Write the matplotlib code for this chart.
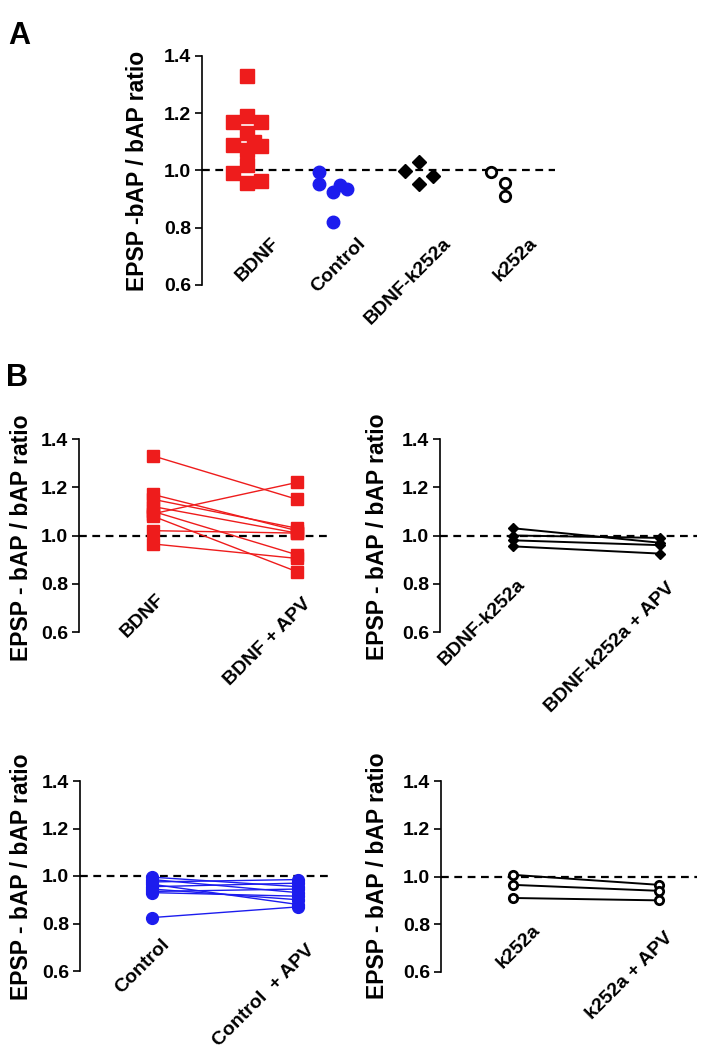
"""EPSP-bAP / bAP ratio figure: panel A scatter by group, panel B paired APV plots."""

import matplotlib
matplotlib.use("Agg")
import matplotlib.pyplot as plt
from matplotlib.transforms import ScaledTranslation

plt.rcParams["font.family"] = ["Liberation Sans", "DejaVu Sans"]
plt.rcParams["font.weight"] = "bold"

W, H = 702, 1050

# ---- panel A: one ratio per cell ----
a_groups = ["BDNF", "Control", "BDNF-k252a", "k252a"]
a_bdnf = [1.33, 1.19, 1.17, 1.17, 1.13, 1.10, 1.09, 1.085, 1.07, 1.02, 0.99, 0.965, 0.955]
a_bdnf_slot = [0, 0, -1, 1, 0, 0.5, -1, 1, 0, 0, -1, 1, 0]
a_control = [0.995, 0.952, 0.95, 0.936, 0.925, 0.821]
a_control_slot = [-1, -1, 0.5, 1, 0, 0]
a_bk = [0.997, 1.028, 0.952, 0.981]
a_bk_slot = [-1, 0, 0, 1]
a_k = [0.994, 0.958, 0.911]
a_k_slot = [-1, 0, 0]

# ---- panel B: paired before / after APV ----
b_bdnf_labels = ["BDNF", "BDNF + APV"]
b_bdnf_pre = [1.33, 1.17, 1.15, 1.12, 1.09, 1.10, 1.08, 1.02, 0.965]
b_bdnf_post = [1.15, 1.02, 1.03, 1.01, 1.22, 0.92, 0.85, 1.01, 0.905]

b_bk_labels = ["BDNF-k252a", "BDNF-k252a + APV"]
b_bk_pre = [1.03, 1.00, 0.98, 0.955]
b_bk_post = [0.97, 0.99, 0.96, 0.925]

b_ctrl_labels = ["Control", "Control  + APV"]
b_ctrl_pre = [0.995, 0.985, 0.975, 0.965, 0.955, 0.945, 0.935, 0.93, 0.825]
b_ctrl_post = [0.955, 0.93, 0.985, 0.88, 0.97, 0.90, 0.945, 0.915, 0.87]

b_k_labels = ["k252a", "k252a + APV"]
b_k_pre = [1.007, 0.965, 0.91]
b_k_post = [0.965, 0.94, 0.90]

yticks = [0.6, 0.8, 1.0, 1.2, 1.4]
RED = "#ee1c1c"
BLUE = "#1c1cee"
TICK_FS = 14
LAB_FS = 16.5

fig = plt.figure(figsize=(W / 100, H / 100), dpi=100)


def px_axes(x0, x1, ytop, ybot):
    return fig.add_axes([x0 / W, 1 - ybot / H, (x1 - x0) / W, (ybot - ytop) / H])


def style(ax, xlim, ylabel, label_xy):
    ax.set_xlim(*xlim)
    ax.set_ylim(0.6, 1.4)
    for s in ("top", "right", "bottom"):
        ax.spines[s].set_visible(False)
    ax.spines["left"].set_linewidth(1.2)
    ax.set_xticks([])
    ax.set_yticks(yticks, [f"{t:.1f}" for t in yticks], fontsize=TICK_FS, fontweight="bold")
    ax.tick_params(axis="y", length=5, width=1.2, pad=3)
    ax.axhline(1.0, color="k", lw=1.6, ls=(0, (3.5, 2.5)), zorder=1)
    ax.set_ylabel(ylabel, fontsize=LAB_FS, fontweight="bold", va="center")
    ax.yaxis.set_label_coords(label_xy[0] / W, 1 - label_xy[1] / H, transform=fig.transFigure)


def xlabels(ax, cats, names, offsets):
    for c, name, (dx, up) in zip(cats, names, offsets):
        tr = ax.get_xaxis_transform() + ScaledTranslation(dx / 100, up / 100, fig.dpi_scale_trans)
        ax.text(c, 0, name, transform=tr, rotation=45, rotation_mode="anchor",
                ha="right", va="center", fontsize=TICK_FS, fontweight="bold")


# panel A
axA = px_axes(202, 555, 56, 285)
style(axA, (1 - 45 / 86, 4 + 50 / 86), "EPSP -bAP / bAP ratio", (137, 171))
step = 14 / 86
axA.plot([1 + s * step for s in a_bdnf_slot], a_bdnf, "s", color=RED, ms=9.5, mec=RED, zorder=3)
axA.plot([2 + s * step for s in a_control_slot], a_control, "o", color=BLUE, ms=9, mec=BLUE, zorder=3)
axA.plot([3 + s * step for s in a_bk_slot], a_bk, "D", color="k", ms=7.5, zorder=3)
axA.plot([4 + s * step for s in a_k_slot], a_k, "o", mfc="white", mec="k", mew=2, ms=7.5, zorder=3)
xlabels(axA, [1, 2, 3, 4], a_groups, [(30, 44)] * 4)

# panel B
panels = [
    ((79, 330, 439, 632), (0.486, 2.229), (22, 538), b_bdnf_labels, b_bdnf_pre, b_bdnf_post,
     dict(marker="s", color=RED, ms=9, mfc=RED, mec=RED, lw=1.0), [(9, 35), (11, 31)]),
    ((440, 697, 439, 632), (0.503, 2.252), (378, 537), b_bk_labels, b_bk_pre, b_bk_post,
     dict(marker="D", color="k", ms=5, lw=1.4), [(10, 50), (12, 47)]),
    ((80, 333, 781, 971), (0.503, 2.241), (22, 877), b_ctrl_labels, b_ctrl_pre, b_ctrl_post,
     dict(marker="o", color=BLUE, ms=8.5, mfc=BLUE, mec=BLUE, lw=1.0), [(15, 29), (14, 23)]),
    ((441, 697, 781, 972), (0.507, 2.26), (377, 876), b_k_labels, b_k_pre, b_k_post,
     dict(marker="o", color="k", ms=6, mfc="white", mec="k", mew=2, lw=1.4), [(25, 44), (11, 37)]),
]
for box, xlim, lab_xy, names, pre, post, kw, offs in panels:
    ax = px_axes(*box)
    style(ax, xlim, "EPSP - bAP / bAP ratio", lab_xy)
    for a, b in zip(pre, post):
        ax.plot([1, 2], [a, b], zorder=3, **kw)
    xlabels(ax, [1, 2], names, offs)

fig.text(8 / W, 1 - 44 / H, "A", fontsize=22, fontweight="bold")
fig.text(6 / W, 1 - 386 / H, "B", fontsize=22, fontweight="bold")

fig.savefig("out.png", dpi=100)
